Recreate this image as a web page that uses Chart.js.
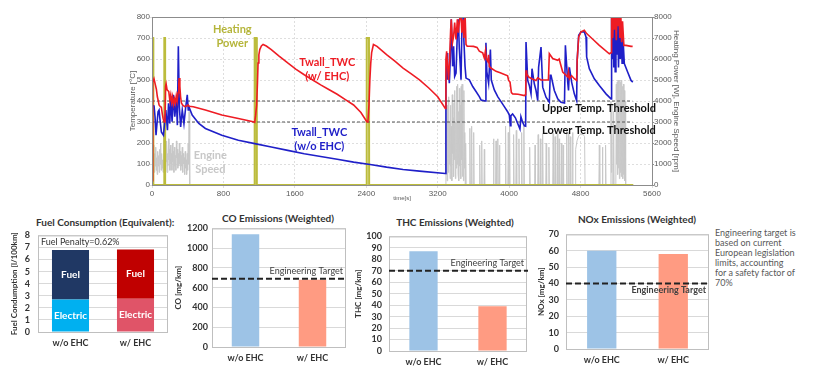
<!DOCTYPE html>
<html><head><meta charset="utf-8">
<script src="https://cdn.jsdelivr.net/npm/chart.js@4.4.0/dist/chart.umd.min.js"></script>
<style>
body{margin:0;background:#fff;width:831px;height:385px;position:relative;overflow:hidden;font-family:Lato,'Open Sans',sans-serif}
canvas{position:absolute}
.ttl{position:absolute;white-space:nowrap;font-weight:bold;color:#333;font-size:10px;line-height:12px}
.note{position:absolute;left:715px;top:228px;font-size:9px;line-height:10px;color:#595959;white-space:nowrap}
</style></head><body>
<canvas id="top" width="560" height="202" style="left:126px;top:0"></canvas>
<div class="ttl" style="left:36px;top:216px">Fuel Consumption (Equivalent):</div>
<div class="ttl" style="left:218px;top:212px;width:120px;text-align:center">CO Emissions (Weighted)</div>
<div class="ttl" style="left:395px;top:216px;width:120px;text-align:center">THC Emissions (Weighted)</div>
<div class="ttl" style="left:577px;top:213px;width:120px;text-align:center">NOx Emissions (Weighted)</div>
<canvas id="fuel" width="162" height="135" style="left:8px;top:222px"></canvas>
<canvas id="co" width="176" height="148" style="left:172px;top:219px"></canvas>
<canvas id="thc" width="177" height="147" style="left:352px;top:224px"></canvas>
<canvas id="nox" width="176" height="147" style="left:535px;top:222px"></canvas>
<div class="note">Engineering target is<br>based on current<br>European legislation<br>limits, accounting<br>for a safety factor of<br>70%</div>
<script>
// ---------- DATA ----------
// time [s], temperature [°C]
const twallWithEhc = [[0,20],[8,490],[22,506],[38,477],[49,456],[60,420],[68,405],[79,381],[94,373],[105,370],[115,340],[124,317],[135,301],[145,300],
[152,470],[158,482],[169,453],[188,445],[199,405],[210,430],[220,395],[230,420],[240,385],[252,410],[262,390],[272,425],[282,400],[292,440],[300,480],[304,509],[312,470],[320,420],[330,389],[345,380],[368,373],[387,376],[405,381],[415,375],
[462,373],[598,357],[782,333],[967,317],[1133,301],[1150,298],[1160,330],[1172,380],[1181,485],[1188,581],[1197,620],[1207,645],[1225,662],[1244,669],[1280,662],[1336,645],[1420,615],[1520,581],[1610,552],[1705,525],[1800,500],[1889,477],[1980,455],[2074,432],[2170,405],[2258,381],[2340,345],[2406,301],[2418,300],[2430,380],[2440,500],[2450,580],[2460,630],[2480,669],[2520,660],[2627,621],[2720,590],[2812,557],[2900,530],[2996,501],[3100,462],[3200,420],[3285,365],
[3292,600],[3300,637],[3311,565],[3322,500],[3333,600],[3345,740],[3352,789],[3365,677],[3378,709],[3390,773],[3405,693],[3420,789],[3431,725],[3445,789],[3460,820],[3470,725],[3483,789],[3494,700],[3506,820],[3517,669],[3530,661],[3560,661],[3600,660],[3640,655],[3666,637],[3690,632],[3704,629],[3722,605],[3735,640],[3745,600],[3760,589],[3770,620],[3778,565],[3795,557],[3853,541],[3900,535],[3983,520],[3994,498],[4010,490],[4025,440],[4040,434],[4100,432],[4170,426],[4185,430],
[4189,546],[4196,530],[4219,514],[4260,505],[4301,498],[4320,510],[4357,500],[4440,500],[4450,625],[4488,602],[4544,594],[4560,600],[4600,538],[4656,515],[4665,540],[4675,505],[4700,520],[4730,506],[4756,498],[4762,594],[4779,705],[4805,729],[4842,737],[4868,721],[4940,693],[5010,665],[5122,625],[5141,630],
[5145,785],[5150,820],[5160,700],[5170,820],[5178,740],[5190,820],[5200,690],[5210,820],[5220,760],[5230,820],[5240,700],[5250,820],[5260,680],[5270,780],[5285,665],[5309,665],[5365,660],[5383,660]];

const twallNoEhc = [[15,380],[23,376],[34,325],[45,237],[56,293],[68,349],[79,357],[90,309],[105,253],[116,245],[128,237],
[155,357],[173,261],[185,389],[199,293],[210,413],[225,301],[240,429],[255,325],[273,405],[284,285],[295,661],[306,373],[321,277],[339,357],[358,293],[376,365],[395,429],[406,357],[413,373],[450,333],[524,293],[598,269],[782,237],[967,213],[1151,197],[1336,181],[1520,165],[1705,149],[1889,136],[2074,123],[2258,109],[2443,98],[2627,85],[2812,74],[2996,66],[3285,55],
[3292,500],[3304,629],[3311,501],[3320,560],[3330,485],[3341,600],[3352,789],[3367,565],[3378,661],[3390,517],[3405,533],[3420,725],[3431,789],[3442,650],[3453,565],[3461,501],[3472,773],[3483,820],[3494,680],[3506,565],[3517,509],[3554,501],[3592,469],[3629,445],[3666,421],[3685,405],[3735,400],[3740,677],[3750,540],[3770,485],[3790,645],[3800,500],[3834,453],[3872,421],[3909,397],[3946,373],[3983,349],[4002,333],[4013,282],[4020,330],[4039,338],[4070,320],[4106,282],[4121,266],[4132,325],[4150,300],[4170,282],[4185,280],
[4189,681],[4208,498],[4226,474],[4245,434],[4256,554],[4282,482],[4301,450],[4320,402],[4330,560],[4357,657],[4376,466],[4413,418],[4450,394],[4460,522],[4469,522],[4506,450],[4544,410],[4581,394],[4620,390],[4630,665],[4656,490],[4665,450],[4675,560],[4700,490],[4730,434],[4756,402],[4762,594],[4779,713],[4805,729],[4842,729],[4861,705],[4868,610],[4898,554],[4954,506],[5010,474],[5085,434],[5141,410],
[5145,700],[5150,820],[5158,600],[5165,820],[5172,560],[5180,780],[5188,540],[5196,820],[5205,620],[5215,820],[5225,560],[5235,800],[5245,600],[5255,760],[5265,580],[5275,700],[5290,578],[5327,538],[5365,498],[5385,490]];

// time [s], heating power [W]
const heatingPower = [[0,0],[1,7000],[14,7000],[15,0],[137,0],[138,7000],[146,7000],[147,0],[1148,0],[1150,7000],[1172,7000],[1174,0],[2403,0],[2405,7000],[2430,7000],[2432,0],[5390,0]];

// time [s], engine speed [rpm]
const engineSpeed = [[0,0],[6,1500],[10,2100],[15,800],[20,1900],[26,600],[31,1500],[36,900],[42,1800],[47,700],[53,1300],[58,500],[64,1600],[69,900],[75,1400],[80,600],[86,1700],[91,1000],[97,2000],[102,700],[108,1500],[113,800],[119,1200],[124,600],[130,2300],[135,900],[141,1600],[146,700],[152,1800],[157,1100],[163,2100],[168,600],[174,1500],[179,900],[185,2200],[190,1200],[196,1700],[201,700],[207,1900],[212,1000],[218,1500],[223,700],[229,2000],[234,1100],[240,1600],[245,600],[251,1800],[256,900],[262,1400],[267,700],[273,2100],[278,1300],[284,1700],[289,800],[295,1500],[300,900],[306,2000],[311,1000],[317,1600],[322,700],[328,1400],[333,900],[339,1800],[344,600],[350,1500],[355,1000],[361,1300],[366,500],[372,1600],[377,800],[383,1200],[388,500],[394,1500],[399,700],[405,2000],[410,1000],[415,3500],[420,1500],[425,0],
[3288,0],[3292,3000],[3296,500],[3300,4000],[3305,200],[3310,2500],[3314,3800],[3318,600],[3323,4200],[3328,1000],[3333,3000],[3338,300],[3343,3800],[3348,900],[3353,2800],[3358,200],[3363,4300],[3368,1500],[3373,3200],[3378,400],[3383,3900],[3388,1200],[3393,4500],[3398,300],[3403,3000],[3408,800],[3413,4700],[3418,1000],[3423,4800],[3428,500],[3433,3500],[3438,200],[3443,4600],[3448,900],[3453,3800],[3458,300],[3463,4700],[3468,1200],[3473,4800],[3478,400],[3483,3000],[3488,200],[3493,4500],[3498,800],[3503,2500],[3508,0],[3513,2000],[3518,0],
[3555,0],[3560,2700],[3565,0],[3575,0],[3580,2800],[3585,0],[3598,0],[3603,2500],[3608,0],
[3665,0],[3670,1900],[3675,0],[3688,0],[3693,2100],[3698,0],[3718,0],[3722,1700],[3726,0],
[3820,0],[3825,2200],[3830,0],[3848,0],[3853,2100],[3858,0],[3868,0],[3873,2200],[3878,0],[3888,0],[3892,1900],[3896,0],
[3955,0],[3960,2800],[3965,0],[3985,0],[3990,2500],[3995,0],[4000,0],[4005,2800],[4010,0],
[4045,0],[4050,2400],[4055,0],[4075,0],[4080,2600],[4085,0],[4105,0],[4110,2200],[4115,0],[4135,0],[4140,2500],[4145,0],[4160,0],[4165,2800],[4170,0],
[4225,0],[4230,1800],[4235,0],[4285,0],[4290,1900],[4295,0],
[4320,0],[4325,2400],[4330,0],[4345,0],[4350,2200],[4355,0],[4370,0],[4375,2450],[4380,0],
[4410,0],[4415,2000],[4420,0],[4440,0],[4445,1800],[4450,0],
[4488,0],[4493,2450],[4498,0],[4510,0],[4515,2300],[4520,0],[4535,0],[4540,2450],[4545,0],[4555,0],[4560,2200],[4565,0],
[4580,0],[4585,2000],[4590,0],[4600,0],[4605,1900],[4610,0],
[4640,0],[4645,2600],[4650,0],[4660,0],[4665,2500],[4670,0],[4680,0],[4685,2300],[4690,0],[4705,0],[4710,2500],[4715,0],
[4740,0],[4745,1700],[4760,2100],[4780,2350],[4800,2400],[4830,2400],[4845,2300],[4850,0],
[5005,0],[5010,1900],[5015,0],[5040,0],[5045,1800],[5050,0],[5075,0],[5080,1900],[5085,0],
[5135,0],[5140,4000],[5145,600],[5150,3800],[5155,0],[5165,0],[5170,3500],[5175,0],
[5195,0],[5200,4800],[5205,1000],[5210,4900],[5215,500],[5220,5000],[5225,800],[5230,4800],[5235,300],[5240,5000],[5245,600],[5250,4900],[5255,400],[5260,5000],[5265,1000],[5270,4700],[5275,300],[5280,4800],[5285,500],[5290,4500],[5295,200],[5300,4000],[5305,0],[5390,0]];

const thresholdTemps = [400, 300];
const thresholdEnd = 5380;

const barCats = ['w/o EHC', 'w/ EHC'];
const fuelElectric = [2.7, 2.75];
const fuelFuel = [4.1, 4.09];
const coValues = [1140, 680];
const coTarget = 690;
const thcValues = [87, 39];
const thcTarget = 70;
const noxValues = [60, 58];
const noxTarget = 40;

// ---------- TOP CHART ----------
Chart.defaults.font.family = 'Lato';
const plain = v => String(v);
const toXY = a => a.map(p => ({x: p[0], y: p[1]}));
const lineDs = (label, data, color, width, axis, order, dash) => ({
  label, data, showLine: true, borderColor: color, backgroundColor: color, borderWidth: width,
  pointRadius: 0, yAxisID: axis, order, borderDash: dash || [], tension: 0
});

const topNotes = [
  {text: 'Heating', t: 899, v: 742, color: '#b5b53a'},
  {text: 'Power', t: 899, v: 675, color: '#b5b53a'},
  {text: 'Twall_TWC', t: 1963, v: 584, color: '#ee1c24'},
  {text: '(w/ EHC)', t: 1963, v: 517, color: '#ee1c24'},
  {text: 'Twall_TWC', t: 1874, v: 249, color: '#1f1fc8'},
  {text: '(w/o EHC)', t: 1874, v: 182, color: '#1f1fc8'},
  {text: 'Engine', t: 653, v: 139, color: '#c8c8c8'},
  {text: 'Speed', t: 653, v: 72, color: '#c8c8c8'},
  {text: 'Upper Temp. Threshold', t: 4368, v: 364, color: '#111', align: 'left'},
  {text: 'Lower Temp. Threshold', t: 4368, v: 262, color: '#111', align: 'left'}
];
const topPlugin = {
  id: 'topDeco',
  afterDatasetsDraw(chart) {
    const {ctx, chartArea: a, scales} = chart;
    ctx.save();
    ctx.strokeStyle = '#8c8c8c'; ctx.lineWidth = 1;
    ctx.strokeRect(a.left + 0.5, a.top + 0.5, a.right - a.left, a.bottom - a.top);
    ctx.font = 'bold 11px Lato';
    ctx.textBaseline = 'middle';
    topNotes.forEach(n => {
      ctx.fillStyle = n.color;
      ctx.textAlign = n.align || 'center';
      ctx.fillText(n.text, scales.x.getPixelForValue(n.t), scales.y.getPixelForValue(n.v));
    });
    ctx.restore();
  }
};
const smallTick = {size: 8, family: 'Liberation Sans'};
new Chart(document.getElementById('top'), {
  type: 'scatter',
  data: {datasets: [
    lineDs('Twall_TWC (w/ EHC)', toXY(twallWithEhc), '#ee1c24', 1.6, 'y', 1),
    lineDs('Twall_TWC (w/o EHC)', toXY(twallNoEhc), '#1f1fc8', 1.6, 'y', 2),
    lineDs('Upper Temp. Threshold', [{x: 0, y: thresholdTemps[0]}, {x: thresholdEnd, y: thresholdTemps[0]}], '#555', 1, 'y', 3, [3, 2]),
    lineDs('Lower Temp. Threshold', [{x: 0, y: thresholdTemps[1]}, {x: thresholdEnd, y: thresholdTemps[1]}], '#555', 1, 'y', 3, [3, 2]),
    lineDs('Heating Power', toXY(heatingPower), '#bcbc3c', 2, 'y2', 4),
    lineDs('Engine Speed', toXY(engineSpeed), '#c8c8c8', 1, 'y2', 5)
  ]},
  options: {
    responsive: false, animation: false,
    layout: {padding: {top: 17}},
    plugins: {legend: {display: false}, tooltip: {enabled: false}},
    scales: {
      x: {type: 'linear', min: 0, max: 5600,
        ticks: {stepSize: 800, font: smallTick, color: '#595959', padding: 1, maxRotation: 0, autoSkip: false, callback: plain},
        grid: {color: '#dedede', tickLength: 3}, border: {display: false, dash: [2, 2]},
        title: {display: true, text: 'time[s]', font: {size: 6, family: 'Liberation Sans'}, color: '#595959', padding: 0},
        afterFit: s => { s.height = 17; }},
      y: {min: 0, max: 800,
        ticks: {stepSize: 100, font: smallTick, color: '#595959', padding: 0, autoSkip: false, callback: plain},
        grid: {color: '#dedede', tickLength: 2}, border: {display: false, dash: [2, 2]},
        title: {display: true, text: 'Temperature [°C]', font: smallTick, color: '#595959', padding: {top: 2, bottom: 0}},
        afterFit: s => { s.width = 26; }},
      y2: {position: 'right', min: 0, max: 8000,
        ticks: {stepSize: 1000, font: smallTick, color: '#595959', padding: 0, autoSkip: false, callback: plain},
        grid: {drawOnChartArea: false, tickLength: 2, color: '#8c8c8c'}, border: {display: false},
        title: {display: true, text: 'Heating Power [W], Engine Speed [rpm]', font: smallTick, color: '#595959', padding: {top: 5, bottom: 0}},
        afterFit: s => { s.width = 34; }}
    }
  },
  plugins: [topPlugin]
});

// ---------- BAR CHARTS ----------
function framePlugin(target, textAbove, textBold, extra) {
  return {
    id: 'frame',
    afterDatasetsDraw(chart) {
      const {ctx, chartArea: a, scales} = chart;
      ctx.save();
      ctx.strokeStyle = '#bfbfbf'; ctx.lineWidth = 1;
      ctx.strokeRect(a.left + 0.5, a.top + 0.5, a.right - a.left - 1, a.bottom - a.top);
      if (target !== null) {
        const y = scales.y.getPixelForValue(target);
        ctx.strokeStyle = '#222'; ctx.lineWidth = 2; ctx.setLineDash([6, 3]);
        ctx.beginPath(); ctx.moveTo(a.left, y); ctx.lineTo(a.right + 1, y); ctx.stroke();
        ctx.setLineDash([]);
        ctx.font = (textBold ? 'bold ' : '') + '9px Lato';
        ctx.fillStyle = '#404040'; ctx.textAlign = 'right'; ctx.textBaseline = 'middle';
        ctx.fillText('Engineering Target', a.right - 3, y + (textAbove ? -8 : 7));
      }
      if (extra) extra(chart);
      ctx.restore();
    }
  };
}
function yAxis(max, step, title, width, pad) {
  return {min: 0, max, ticks: {stepSize: step, font: {size: 9, weight: 'bold'}, color: '#333', padding: pad, autoSkip: false, callback: plain},
    grid: {color: '#d9d9d9', drawTicks: false}, border: {display: false},
    title: {display: true, text: title, font: {size: 8, weight: 'bold'}, color: '#333', padding: {top: 2, bottom: 2}},
    afterFit: s => { s.width = width; }};
}
const xAxis = (h, stacked) => ({stacked: !!stacked, grid: {display: false, drawTicks: false}, border: {display: false},
  ticks: {font: {size: 9, weight: 'bold'}, color: '#333', padding: 6}, afterFit: s => { s.height = h; }});
const baseOpts = (pad) => ({responsive: false, animation: false, layout: {padding: pad},
  plugins: {legend: {display: false}, tooltip: {enabled: false}}});

// Fuel
new Chart(document.getElementById('fuel'), {
  type: 'bar',
  data: {labels: barCats, datasets: [
    {label: 'Electric', data: fuelElectric, backgroundColor: ['#00b0f0', '#e05468'], barPercentage: 0.57, categoryPercentage: 1},
    {label: 'Fuel', data: fuelFuel, backgroundColor: ['#203864', '#c00000'], barPercentage: 0.57, categoryPercentage: 1}
  ]},
  options: Object.assign(baseOpts({top: 10, right: 2}), {scales: {
    x: xAxis(25, true),
    y: Object.assign(yAxis(8, 1, 'Fuel Condumption [l/100km]', 30, 8), {stacked: true})
  }}),
  plugins: [framePlugin(null, false, false, chart => {
    const {ctx, chartArea: a} = chart;
    ctx.font = '9px Lato'; ctx.fillStyle = '#333'; ctx.textAlign = 'left'; ctx.textBaseline = 'middle';
    ctx.fillText('Fuel Penalty=0.62%', a.left + 3, a.top + 7);
    ctx.font = 'bold 10px Lato'; ctx.fillStyle = '#fff'; ctx.textAlign = 'center';
    chart.data.datasets.forEach((ds, di) => {
      chart.getDatasetMeta(di).data.forEach(bar => {
        ctx.fillText(ds.label, bar.x, (bar.y + bar.base) / 2);
      });
    });
  })]
});

function emissionChart(id, values, target, max, step, title, width, pad, top, xh, above, bold) {
  new Chart(document.getElementById(id), {
    type: 'bar',
    data: {labels: barCats, datasets: [{label: title, data: values, backgroundColor: ['#9dc3e6', '#ff9b82'], barPercentage: 0.41, categoryPercentage: 1}]},
    options: Object.assign(baseOpts({top: top, right: 2}), {scales: {x: xAxis(xh), y: yAxis(max, step, title, width, pad)}}),
    plugins: [framePlugin(target, above, bold)]
  });
}
emissionChart('co', coValues, coTarget, 1200, 200, 'CO [mg/km]', 40, 4, 8, 20, true, false);
emissionChart('thc', thcValues, thcTarget, 100, 10, 'THC [mg/km]', 37, 7, 8, 20, true, false);
emissionChart('nox', noxValues, noxTarget, 70, 10, 'NOx [mg/km]', 31, 7, 8, 20, false, true);
</script>
</body></html>
